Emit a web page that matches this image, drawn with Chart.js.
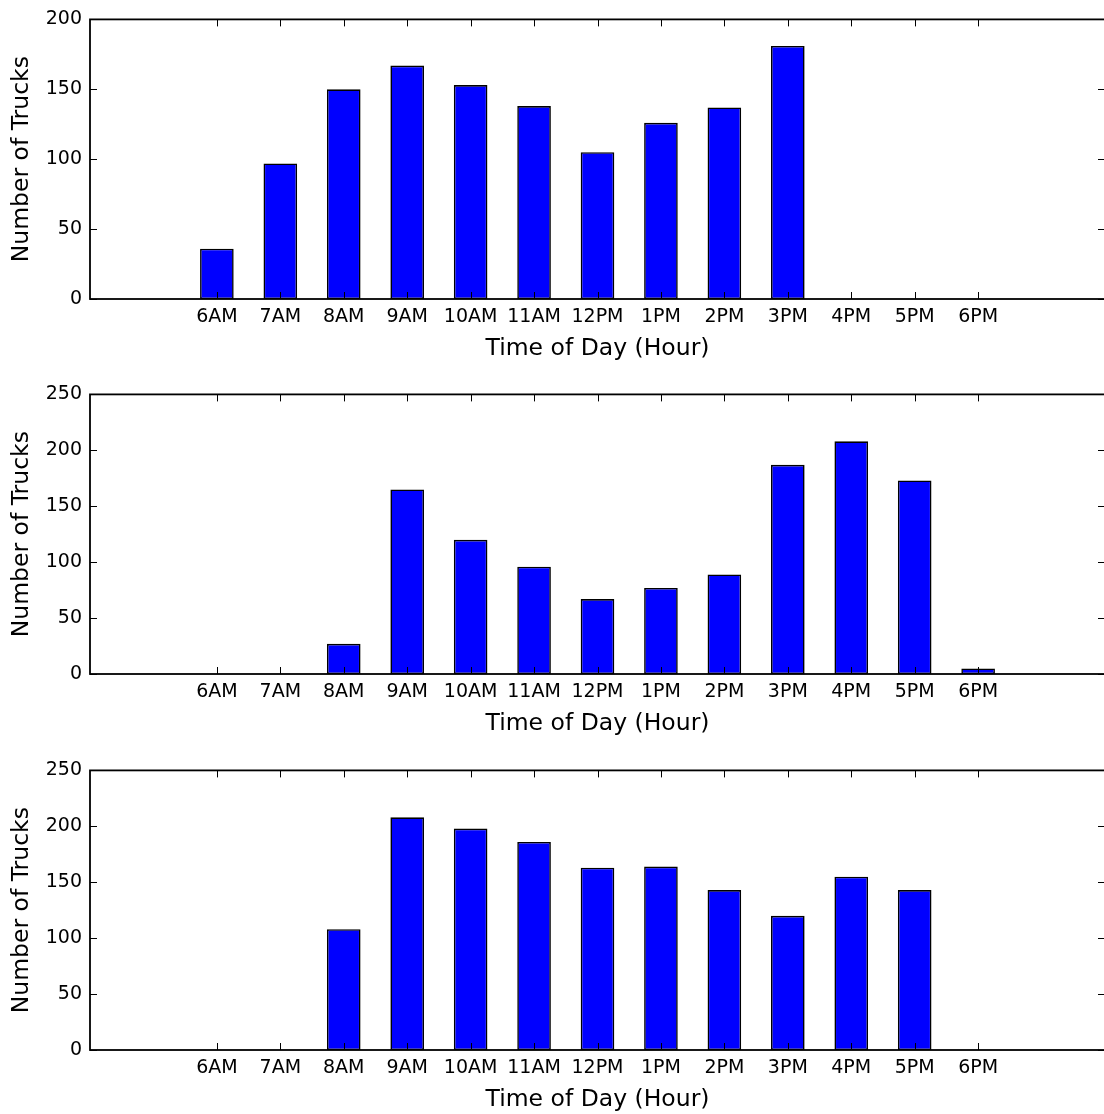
<!DOCTYPE html>
<html>
<head>
<meta charset="utf-8">
<script src="https://cdn.jsdelivr.net/npm/chart.js@4.4.1/dist/chart.umd.min.js"></script>
<style>
    html, body { margin: 0; padding: 0; background: #fff; overflow: hidden; width: 1104px; height: 1114px; }
    canvas { position: absolute; left: 0; }
</style>
</head>
<body>
<canvas id="panel1" width="1112" height="376" style="top:0px"></canvas>
<canvas id="panel2" width="1112" height="376" style="top:375px"></canvas>
<canvas id="panel3" width="1112" height="376" style="top:751px"></canvas>
<script>
// hour of day and its label
const hours = [6, 7, 8, 9, 10, 11, 12, 13, 14, 15, 16, 17, 18];
const hourLabels = ['6AM', '7AM', '8AM', '9AM', '10AM', '11AM', '12PM', '1PM', '2PM', '3PM', '4PM', '5PM', '6PM'];

// trucks counted per hour, one array per panel
const trucksPanel1 = [36, 97, 150, 167, 153, 138, 105, 126, 137, 181, 0, 0, 0];
const trucksPanel2 = [0, 0, 27, 165, 120, 96, 67, 77, 89, 187, 208, 173, 5];
const trucksPanel3 = [0, 0, 108, 208, 198, 186, 163, 164, 143, 120, 155, 143, 0];

const yMaxPanel1 = 200;
const yMaxPanel2 = 250;
const yMaxPanel3 = 250;

Chart.defaults.font.family = "'DejaVu Sans', sans-serif";
Chart.defaults.color = '#000';

// box around the plot plus inward ticks on all four sides
const axesFrame = {
    id: 'axesFrame',
    afterDatasetsDraw(chart) {
        const { ctx, chartArea: a, scales: { x, y } } = chart;
        ctx.save();
        ctx.strokeStyle = '#000';
        ctx.lineWidth = 1;
        ctx.beginPath();
        hours.forEach(h => {
            const px = Math.round(x.getPixelForValue(h)) + 0.5;
            ctx.moveTo(px, a.bottom); ctx.lineTo(px, a.bottom - 7);
            ctx.moveTo(px, a.top); ctx.lineTo(px, a.top + 7);
        });
        y.ticks.forEach(t => {
            const py = Math.round(y.getPixelForValue(t.value)) + 0.5;
            ctx.moveTo(a.left, py); ctx.lineTo(a.left + 7, py);
            ctx.moveTo(a.right, py); ctx.lineTo(a.right - 7, py);
        });
        ctx.stroke();
        ctx.lineWidth = 1.8;
        ctx.strokeRect(a.left, a.top, a.right - a.left, a.bottom - a.top);
        ctx.restore();
    }
};

function drawPanel(id, values, yMax) {
    const ctx = document.getElementById(id).getContext('2d');
    return new Chart(ctx, {
        type: 'bar',
        data: {
            datasets: [{
                data: hours.map((h, i) => ({ x: h, y: values[i] })),
                backgroundColor: '#0000ff',
                borderColor: '#000',
                borderWidth: 1.6,
                borderSkipped: false,
                categoryPercentage: 1,
                barPercentage: 0.53
            }]
        },
        options: {
            responsive: false,
            animation: false,
            layout: { padding: { top: 18, left: 0, right: 2, bottom: 0 } },
            plugins: { legend: { display: false }, tooltip: { enabled: false } },
            scales: {
                x: {
                    type: 'linear',
                    min: 4,
                    max: 20,
                    offset: false,
                    grid: { display: false, drawTicks: false },
                    border: { display: false },
                    ticks: {
                        stepSize: 1,
                        autoSkip: false,
                        maxRotation: 0,
                        padding: 7,
                        font: { size: 19 },
                        callback: v => {
                            const i = hours.indexOf(v);
                            return i >= 0 ? hourLabels[i] : '';
                        }
                    },
                    title: {
                        display: true,
                        text: 'Time of Day (Hour)',
                        font: { size: 23.5 },
                        padding: { top: 0, bottom: 13 }
                    },
                    afterFit: s => { s.height = 77; }
                },
                y: {
                    min: 0,
                    max: yMax,
                    grid: { display: false, drawTicks: false },
                    border: { display: false },
                    ticks: { stepSize: 50, padding: 8, font: { size: 19 } },
                    title: {
                        display: true,
                        text: 'Number of Trucks',
                        font: { size: 23.5 },
                        padding: { top: 8, bottom: 0 }
                    },
                    afterFit: s => { s.width = 90; }
                }
            }
        },
        plugins: [axesFrame]
    });
}

drawPanel('panel1', trucksPanel1, yMaxPanel1);
drawPanel('panel2', trucksPanel2, yMaxPanel2);
drawPanel('panel3', trucksPanel3, yMaxPanel3);
</script>
</body>
</html>
